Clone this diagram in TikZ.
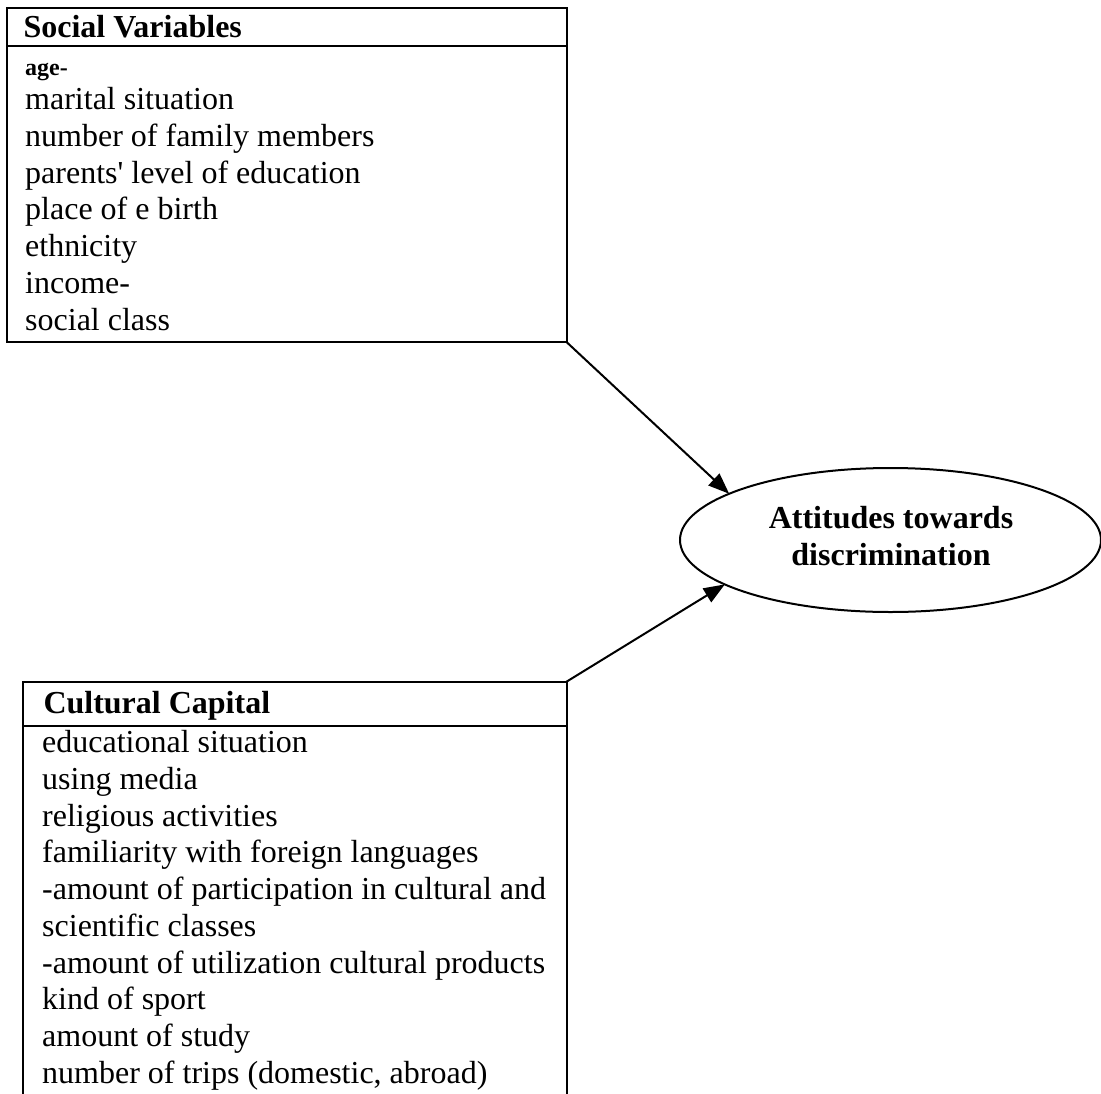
\documentclass[tikz,border=0pt]{standalone}
\usepackage{fontspec}
\setmainfont{Liberation Serif}[Ligatures=TeXOff]
\usetikzlibrary{shapes.geometric,arrows.meta}
\tikzset{
  box/.style={draw, line width=2pt, rectangle, inner sep=0pt, outer sep=0pt, anchor=north west},
  sep/.style={line width=2pt},
  head/.style={anchor=base west, inner sep=0pt, font=\fontsize{32}{36.67}\selectfont\bfseries},
  items/.style={anchor=base west, inner sep=0pt, align=left, font=\fontsize{32}{36.67}\selectfont},
  small/.style={anchor=base west, inner sep=0pt, font=\fontsize{24}{28}\selectfont\bfseries},
  oval/.style={draw, ellipse, line width=2pt, inner sep=0pt, outer sep=0pt},
  ovaltext/.style={anchor=base, inner sep=0pt, align=center, font=\fontsize{32}{37}\selectfont\bfseries},
  arr/.style={line width=2pt, -{Triangle[length=21pt,width=16pt]}}
}
\begin{document}
\begin{tikzpicture}[x=1pt,y=-1pt]
\useasboundingbox (0,0) rectangle (1101,1093);
\clip (0,0) rectangle (1101,1093);
% Social variables box
\node[box, minimum width=559.2pt, minimum height=333.7pt] (sv) at (7.3,8.3) {};
\coordinate (svl) at (7.3,45.5);
\coordinate (svr) at (566.5,45.5);
\draw[sep] (svl) -- (svr);
\node[head] (svh) at (23.3,37.3) {Social Variables};
\node[small] (age) at (25,75) {age-};
% anchor base = baseline of the last line
\node[items] (svitems) at (25,330) {marital situation\\number of family members\\parents' level of education\\place of e birth\\ethnicity\\income-\\social class};
% Cultural capital box (open at the bottom)
\node[box, minimum width=543.2pt, minimum height=500pt] (cc) at (23.3,681.7) {};
\coordinate (ccl) at (23.3,725.5);
\coordinate (ccr) at (566.5,725.5);
\draw[sep] (ccl) -- (ccr);
\node[head] (cch) at (43.3,713.3) {Cultural Capital};
\node[items] (ccitems) at (42,1083) {educational situation\\using media\\religious activities\\familiarity with foreign languages\\-amount of participation in cultural and\\scientific classes\\-amount of utilization cultural products\\kind of sport\\amount of study\\number of trips (domestic, abroad)};
% Attitudes ellipse
\node[oval, minimum width=421pt, minimum height=144pt] (att) at (890.5,540) {};
\node[ovaltext] (attl) at (891,565) {Attitudes towards\\discrimination};
% connectors
\draw[arr] (sv.south east) -- (att.164.8);
\draw[arr] (cc.north east) -- (att.195.9);
\end{tikzpicture}
\end{document}
